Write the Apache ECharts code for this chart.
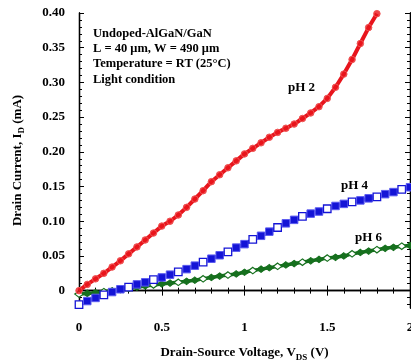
<!DOCTYPE html>
<html>
<head>
<meta charset="utf-8">
<script src="https://cdn.jsdelivr.net/npm/echarts@6/dist/echarts.min.js"></script>
<style>
html,body{margin:0;padding:0;background:#fff;}
#chart{width:411px;height:363px;}
</style>
</head>
<body>
<div id="chart"></div>
<script>
// Drain-source voltage (V) for each series
const vdsPH2 = [0,0.05,0.1,0.15,0.2,0.25,0.3,0.35,0.4,0.45,0.5,0.55,0.6,0.65,0.7,0.75,0.8,0.85,0.9,0.95,1.0,1.05,1.1,1.15,1.2,1.25,1.3,1.35,1.4,1.45,1.5,1.55,1.6,1.65,1.7,1.75,1.8];
const vdsFull = [0,0.05,0.1,0.15,0.2,0.25,0.3,0.35,0.4,0.45,0.5,0.55,0.6,0.65,0.7,0.75,0.8,0.85,0.9,0.95,1.0,1.05,1.1,1.15,1.2,1.25,1.3,1.35,1.4,1.45,1.5,1.55,1.6,1.65,1.7,1.75,1.8,1.85,1.9,1.95,2.0];
// Drain current (mA)
const idPH2 = [0.000,0.009,0.017,0.025,0.034,0.043,0.053,0.063,0.073,0.083,0.093,0.100,0.109,0.120,0.132,0.144,0.157,0.167,0.177,0.187,0.197,0.205,0.213,0.221,0.228,0.234,0.240,0.248,0.256,0.265,0.277,0.293,0.312,0.333,0.356,0.379,0.399];
const idPH4 = [-0.020,-0.015,-0.0105,-0.006,-0.002,0.002,0.005,0.009,0.012,0.016,0.019,0.023,0.027,0.031,0.036,0.041,0.046,0.051,0.056,0.062,0.067,0.074,0.079,0.085,0.091,0.097,0.102,0.107,0.111,0.114,0.118,0.122,0.125,0.128,0.130,0.133,0.135,0.139,0.142,0.146,0.149];
const idPH6 = [-0.005,-0.004,-0.003,-0.0015,-0.0002,0.0015,0.0033,0.005,0.0067,0.0082,0.0096,0.011,0.012,0.0135,0.015,0.017,0.019,0.021,0.0225,0.024,0.0265,0.029,0.031,0.033,0.035,0.037,0.039,0.041,0.043,0.045,0.047,0.048,0.050,0.053,0.055,0.057,0.059,0.061,0.0625,0.064,0.065];
// Tick labels
const xTicks = [0,0.5,1,1.5,2];
const yTickLabels = [0,0.05,0.10,0.15,0.20,0.25,0.30,0.35,0.40];
const yMinorTicks = [-0.02,-0.01,0.01,0.02,0.03,0.04,0.06,0.07,0.08,0.09,0.11,0.12,0.13,0.14,0.16,0.17,0.18,0.19,0.21,0.22,0.23,0.24,0.26,0.27,0.28,0.29,0.31,0.32,0.33,0.34,0.36,0.37,0.38,0.39];
const seriesNames = ['pH 2','pH 4','pH 6'];

const FONT = 'Liberation Serif';
const RED = '#e8141c', BLUE = '#1414d6', GREEN = '#16701e';

const chart = echarts.init(document.getElementById('chart'), null, {renderer:'canvas'});

function pairs(xs, ys){ return ys.map((y,i)=>[xs[i], y]); }

const axisLineStyle = {show:true, lineStyle:{color:'#000', width:1.3}};

function yAxisDef(pos, showLabels, minor){
  return {
    type:'value', position:pos, min:-0.025, max:0.4,
    splitLine:{show:false},
    axisLine: axisLineStyle,
    axisTick:{show:true, inside:true, length: minor?3:5, lineStyle:{color:'#000', width:1},
      customValues: minor ? yMinorTicks : yTickLabels},
    axisLabel: showLabels ? {
      show:true, customValues:yTickLabels, margin:14,
      fontFamily:FONT, fontWeight:'bold', fontSize:13, color:'#000',
      formatter: v => (Math.abs(v) < 1e-9 ? '0' : v.toFixed(2))
    } : {show:false},
    name: showLabels ? 'Drain Current, I{sub|D} (mA)' : '',
    nameLocation:'middle', nameGap:53, nameRotate:90,
    nameTextStyle:{fontFamily:FONT, fontWeight:'bold', fontSize:13, color:'#000',
      rich:{sub:{fontFamily:FONT, fontWeight:'bold', fontSize:9, color:'#000', padding:[7,0,0,0]}}}
  };
}

function xAxisDef(pos, showLabels){
  return {
    type:'value', position:pos, min:0, max:2, interval:0.5,
    splitLine:{show:false},
    axisLine: axisLineStyle,
    axisTick:{show:true, inside:true, length:5, lineStyle:{color:'#000', width:1}},
    minorTick:{show:true, splitNumber:5, length:3, lineStyle:{color:'#000', width:1}},
    minorSplitLine:{show:false},
    axisLabel: showLabels ? {
      show:true, margin:13, fontFamily:FONT, fontWeight:'bold', fontSize:13, color:'#000',
      customValues: xTicks,
      formatter: v => String(v)
    } : {show:false},
    name: showLabels ? 'Drain-Source Voltage, V{sub|DS} (V)' : '',
    nameLocation:'middle', nameGap:36,
    nameTextStyle:{fontFamily:FONT, fontWeight:'bold', fontSize:13, color:'#000',
      rich:{sub:{fontFamily:FONT, fontWeight:'bold', fontSize:9, color:'#000', padding:[9,0,0,0]}}}
  };
}

const option = {
  animation:false,
  backgroundColor:'#fff',
  grid:{left:79, right:1, top:13, bottom:55, containLabel:false, outerBoundsMode:'none'},
  xAxis:[xAxisDef('bottom', true), xAxisDef('top', false)],
  yAxis:[yAxisDef('left', true, false), yAxisDef('left', false, true),
         yAxisDef('right', false, false), yAxisDef('right', false, true)],
  series:[
    {
      name:seriesNames[0], type:'line', xAxisIndex:0, yAxisIndex:0,
      data:pairs(vdsPH2, idPH2),
      symbol:'circle', symbolSize:6.5, showSymbol:true,
      lineStyle:{color:RED, width:4},
      itemStyle:{color:'rgba(232,20,28,0.8)', borderColor:'#f05050', borderWidth:1},
      z:4
    },
    {
      name:seriesNames[1], type:'line', xAxisIndex:0, yAxisIndex:0,
      data:pairs(vdsFull, idPH4).map((p,i)=>({value:p,
        itemStyle: (i % 3 === 0) ? {color:'#ffffff', borderColor:BLUE, borderWidth:1.3}
                                 : {color:BLUE, borderColor:'#5a5af0', borderWidth:1}})),
      symbol:'rect', symbolSize:7.5, showSymbol:true,
      lineStyle:{color:BLUE, width:3.5},
      itemStyle:{color:BLUE},
      z:3
    },
    {
      name:seriesNames[2], type:'line', xAxisIndex:0, yAxisIndex:0,
      data:pairs(vdsFull, idPH6).map((p,i)=>({value:p,
        itemStyle: (i % 3 === 0) ? {color:'#ffffff', borderColor:GREEN, borderWidth:1.2}
                                 : {color:GREEN, borderColor:GREEN, borderWidth:1}})),
      symbol:'diamond', symbolSize:[8.5,6.5], showSymbol:true,
      lineStyle:{color:GREEN, width:3.5},
      itemStyle:{color:GREEN},
      z:2
    }
  ],
  graphic:[
    {type:'text', left:93, top:26, z:10,
     style:{text:'Undoped-AlGaN/GaN\nL = 40 μm, W = 490 μm\nTemperature = RT (25°C)\nLight condition',
            font:'bold 12.5px "Liberation Serif"', fill:'#000', lineHeight:15.3}},
    {type:'text', left:288, top:81, z:10,
     style:{text:seriesNames[0], font:'bold 13px "Liberation Serif"', fill:'#000'}},
    {type:'text', left:341, top:179, z:10,
     style:{text:seriesNames[1], font:'bold 13px "Liberation Serif"', fill:'#000'}},
    {type:'text', left:355, top:231, z:10,
     style:{text:seriesNames[2], font:'bold 13px "Liberation Serif"', fill:'#000'}}
  ]
};
chart.setOption(option);
</script>
</body>
</html>
